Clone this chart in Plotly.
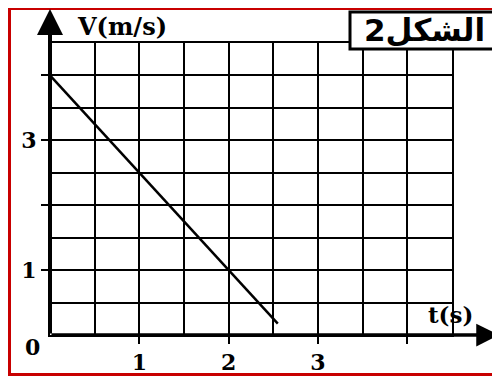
import plotly.graph_objects as go

# velocity-time line
t_data = [0, 2.55]
v_data = [4, 0.175]

x_tickvals = [1, 2, 3, 4]
x_ticktext = ["1", "2", "3", ""]
y_tickvals = [1, 2, 3, 4]
y_ticktext = ["1", "", "3", ""]

SERIF = "DejaVu Serif"
RED = "#c80000"

fig = go.Figure()

fig.add_trace(
    go.Scatter(
        x=t_data,
        y=v_data,
        mode="lines",
        line=dict(color="black", width=2.5),
        hoverinfo="skip",
        showlegend=False,
    )
)

axis_common = dict(
    range=[0, 4.5],
    automargin=False,
    showgrid=True,
    gridcolor="black",
    gridwidth=2,
    minor=dict(dtick=0.5, tick0=0, showgrid=True, gridcolor="black", gridwidth=2),
    showline=True,
    mirror=True,
    linecolor="black",
    linewidth=2,
    zeroline=False,
    ticks="outside",
    ticklen=7,
    tickwidth=2,
    tickcolor="black",
    tickmode="array",
    tickfont=dict(family=SERIF, size=22, color="black", weight="bold"),
    fixedrange=True,
)

fig.update_xaxes(**axis_common, tickvals=x_tickvals, ticktext=x_ticktext)
fig.update_yaxes(**axis_common, tickvals=y_tickvals, ticktext=y_ticktext)


# page pixels -> paper coords (page has an 8px body margin)
def xp(px):
    return (px - 50) / 402


def yp(py):
    return (335 - py) / 292


def label(px, py, text, size, family=SERIF, xanchor="center"):
    return dict(x=xp(px), y=yp(py), xref="paper", yref="paper", text=text, showarrow=False,
                xanchor=xanchor, yanchor="middle",
                font=dict(family=family, size=size, color="black", weight="bold"))


annotations = [
    # y axis arrow
    dict(x=0, y=yp(9), xref="paper", yref="paper", ax=0, ay=326, text="",
         showarrow=True, arrowhead=2, arrowwidth=4, arrowsize=1.3, arrowcolor="black", standoff=0),
    # x axis arrow
    dict(x=xp(499), y=0, xref="paper", yref="paper", ax=-449, ay=0, text="",
         showarrow=True, arrowhead=2, arrowwidth=3.5, arrowsize=1.3, arrowcolor="black", standoff=0),
    label(122, 26, "V(m/s)", 24),
    label(450, 314, "t(s)", 23),
    label(32, 347, "0", 22),
    label(362, 30, "الشكل2", 31, family="DejaVu Sans", xanchor="left"),
]

shapes = [
    # figure label box
    dict(type="rect", xref="paper", yref="paper", x0=xp(350), x1=xp(506), y0=yp(49), y1=yp(12),
         line=dict(color="black", width=3), fillcolor="white", layer="above"),
    # red frame (top, left, bottom)
    dict(type="rect", xref="paper", yref="paper", x0=xp(8), x1=xp(11), y0=yp(376), y1=yp(8),
         line=dict(width=0), fillcolor=RED, layer="above"),
    dict(type="rect", xref="paper", yref="paper", x0=xp(8), x1=xp(500), y0=yp(10), y1=yp(8),
         line=dict(width=0), fillcolor=RED, layer="above"),
    dict(type="rect", xref="paper", yref="paper", x0=xp(8), x1=xp(500), y0=yp(376), y1=yp(373),
         line=dict(width=0), fillcolor=RED, layer="above"),
]

fig.update_layout(
    width=492,
    height=368,
    margin=dict(l=42, r=48, t=35, b=41, autoexpand=False),
    paper_bgcolor="white",
    plot_bgcolor="white",
    showlegend=False,
    annotations=annotations,
    shapes=shapes,
)

fig.write_html("out.html")
